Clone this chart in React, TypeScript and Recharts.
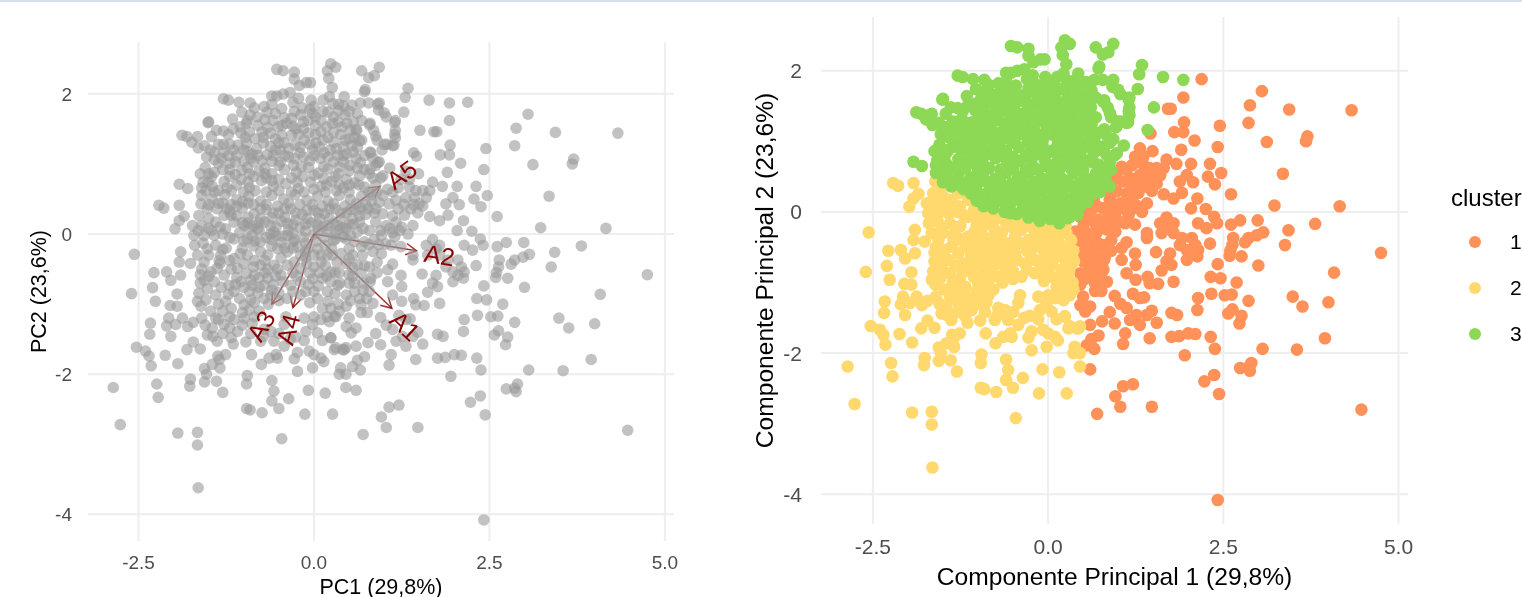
import React from 'react';
import {
  ScatterChart,
  Scatter,
  XAxis,
  YAxis,
  CartesianGrid,
  Legend,
  ReferenceLine,
  ReferenceDot,
} from 'recharts';

type Pair = [number, number];

const xTicks = [-2.5, 0, 2.5, 5];
const yTicks = [-4, -2, 0, 2];

// points, cluster 1 (orange)
const cluster1: Pair[] = [
  [2.19,1.88],[3.05,1.71],[1.93,1.62],[2.88,1.51],[1.71,1.46],[1.75,1.46],[3.44,1.45],[4.33,1.44],[1.94,1.27],[2.86,1.26],
  [2.45,1.22],[1.8,1.13],[1.93,1.13],[1.46,1.11],[2.09,1.01],[3.12,0.99],[3.7,1.07],[3.68,1.0],[2.42,0.92],[1.9,0.88],
  [1.49,0.86],[1.31,0.9],[1.36,0.78],[1.24,0.78],[1.36,0.67],[1.69,0.74],[1.83,0.68],[2.04,0.68],[2.31,0.68],[2.47,0.55],
  [2.28,0.5],[3.35,0.54],[2.38,0.39],[2.61,0.25],[2.07,0.42],[1.98,0.52],[1.88,0.43],[1.91,0.27],[1.79,0.19],[1.65,0.25],
  [2.13,0.19],[2.04,0.05],[2.25,0.04],[3.23,0.09],[4.16,0.08],[3.81,-0.17],[2.37,-0.07],[2.41,-0.16],[2.14,-0.16],[2.26,-0.23],
  [2.74,-0.12],[2.61,-0.18],[2.99,-0.12],[3.43,-0.26],[3.07,-0.29],[2.98,-0.33],[2.86,-0.37],[2.81,-0.43],[2.64,-0.37],[2.63,-0.47],
  [2.6,-0.55],[2.59,-0.62],[2.76,-0.63],[2.31,-0.45],[3.38,-0.47],[4.75,-0.58],[3.0,-0.76],[2.42,-0.74],[4.08,-0.86],[2.32,-0.92],
  [2.46,-0.94],[2.69,-1.0],[1.79,-0.99],[1.17,0.48],[1.07,0.43],[0.98,0.55],[1.05,0.64],[0.93,0.45],[0.98,0.29],[1.12,0.26],
  [1.31,0.52],[1.43,0.52],[1.55,0.62],[1.6,0.52],[1.5,0.43],[1.38,0.36],[1.29,0.27],[1.41,0.12],[1.34,0.0],[1.17,0.17],
  [1.03,0.12],[0.88,0.17],[0.96,-0.02],[0.79,0.05],[0.65,0.17],[0.62,0.03],[1.15,-0.04],[1.24,-0.18],[1.1,-0.16],[0.96,-0.28],
  [0.84,-0.25],[0.72,-0.11],[0.575,-0.11],[0.46,-0.07],[0.385,-0.28],[0.55,-0.3],[0.69,-0.3],[0.5,-0.21],[0.46,-0.42],[0.62,-0.44],
  [0.79,-0.47],[0.5,-0.58],[0.575,-0.7],[0.81,-0.63],[0.67,-0.56],[0.46,-0.87],[0.65,-0.92],[0.79,-0.82],[0.84,-0.99],[0.67,-1.01],
  [0.46,-1.03],[1.12,-0.43],[1.05,-0.51],[1.05,-0.68],[1.24,-0.59],[1.25,-0.75],[1.12,-0.87],[1.25,-0.96],[1.42,-0.92],[1.45,-1.01],
  [1.57,-1.02],[1.54,-0.57],[1.41,-0.3],[1.41,-0.37],[1.6,-0.16],[1.69,-0.08],[1.79,-0.16],[1.62,-0.3],[1.79,-0.3],[1.74,-0.21],
  [1.91,-0.37],[2.05,-0.37],[1.88,-0.47],[2.1,-0.47],[1.98,-0.54],[2.14,-0.54],[1.98,-0.68],[2.13,-0.63],[2.05,-0.59],[1.74,-0.59],
  [1.69,-0.7],[1.76,-0.75],[1.62,-0.83],[0.67,-1.12],[0.95,-1.19],[1.21,-1.16],[1.31,-1.22],[1.37,-1.21],[2.14,-1.22],[2.33,-1.16],
  [2.52,-1.18],[2.62,-1.17],[2.86,-1.26],[3.49,-1.2],[3.63,-1.34],[4.0,-1.28],[0.5,-1.2],[0.46,-1.32],[0.6,-1.34],[0.53,-1.41],
  [1.03,-1.3],[1.12,-1.36],[0.88,-1.42],[2.13,-1.39],[1.76,-1.43],[1.84,-1.46],[1.48,-1.4],[1.41,-1.46],[1.26,-1.46],[1.17,-1.53],
  [1.31,-1.6],[1.55,-1.57],[0.95,-1.58],[0.77,-1.55],[0.6,-1.6],[2.63,-1.38],[2.57,-1.44],[2.76,-1.47],[2.73,-1.58],[1.1,-1.72],
  [1.07,-1.87],[0.72,-1.75],[0.62,-1.8],[1.45,-1.79],[1.76,-1.77],[1.87,-1.76],[2.0,-1.72],[2.1,-1.73],[2.32,-1.77],[2.38,-1.94],
  [3.06,-1.94],[3.55,-1.95],[3.95,-1.79],[1.95,-2.03],[0.55,-1.89],[0.66,-1.94],[0.6,-2.23],[2.74,-2.21],[2.9,-2.14],[2.86,-2.2],
  [2.88,-2.25],[2.37,-2.31],[2.23,-2.4],[2.44,-2.58],[1.21,-2.44],[1.07,-2.47],[0.96,-2.61],[1.03,-2.76],[1.48,-2.76],[0.7,-2.86],
  [4.47,-2.8],[2.42,-4.08],[0.52,-0.02],[0.7,0.08],[0.86,-0.08],[1.02,-0.14],[0.55,-0.48],[0.7,-0.7],[0.9,-0.4],[0.58,-0.82],
  [0.72,-0.45],[1.12,0.02],[1.25,0.1],[1.48,0.3],[1.2,0.36],[0.86,0.3],[1.08,0.08],[0.5,-0.7],[0.9,-0.55],[0.76,-1.12],
  [0.55,-0.6],[0.5,-0.35],[0.68,-0.18],[0.78,-0.15],[0.92,-0.15],[0.95,0.05],[1.22,0.05],[1.28,0.42],[1.42,0.42],[1.12,0.6],
  [1.2,0.66],[1.45,0.62],[1.65,0.62],[1.55,0.4],[0.8,-0.68],[0.7,-0.8],[0.52,-0.95],[0.75,-0.92],
];

// cluster 2 (yellow)
const cluster2: Pair[] = [
  [-2.21,0.41],[-2.14,0.37],[-1.92,0.41],[-1.85,0.255],[-1.92,0.19],[-1.98,0.075],[-2.56,-0.29],[-2.6,-0.85],[-2.28,-0.55],[-2.1,-0.54],
  [-2.04,-0.66],[-1.9,-0.585],[-2.3,-0.765],[-2.26,-0.96],[-1.95,-0.855],[-2.05,-1.02],[-1.95,-1.03],[-2.33,-1.27],[-2.34,-1.43],[-2.07,-1.2],
  [-1.875,-1.2],[-2.1,-1.31],[-1.97,-1.29],[-2.04,-1.46],[-1.8,-1.32],[-1.72,-1.26],[-2.53,-1.615],[-2.4,-1.67],[-2.35,-1.74],[-2.12,-1.73],
  [-1.81,-1.65],[-1.72,-1.54],[-1.62,-1.64],[-1.26,-1.72],[-1.37,-1.74],[-1.15,-1.57],[-0.89,-1.72],[-0.97,-1.54],[-1.52,-1.44],[-1.38,-1.53],
  [-1.45,-1.34],[-1.28,-1.29],[-1.09,-1.39],[-0.995,-1.2],[-0.85,-1.18],[-1.14,-1.22],[-1.3,-1.1],[-1.47,-1.1],[-1.61,-1.03],[-1.66,-0.96],
  [-1.64,-0.845],[-1.565,-0.66],[-1.47,-0.54],[-1.4,-0.87],[-1.26,-0.96],[-0.995,-1.01],[-1.14,-0.82],[-0.92,-0.82],[-1.21,-0.73],[-1.04,-0.68],
  [-1.42,-0.68],[-1.28,-0.585],[-1.09,-0.49],[-0.88,-0.73],[-0.71,-0.92],[-0.71,-0.73],[-0.615,-0.87],[-0.38,-0.92],[-0.19,-0.87],[-0.33,-0.73],
  [-0.19,-0.68],[0.05,-0.92],[0.19,-0.82],[0.34,-0.73],[0.12,-0.63],[0.24,-0.54],[0.0,-0.47],[-0.19,-0.49],[-0.47,-0.585],[-0.66,-0.63],
  [-0.85,-0.585],[-0.76,-0.445],[-0.57,-0.445],[-0.38,-0.445],[-0.95,-0.3],[-1.14,-0.35],[-1.33,-0.3],[-1.52,-0.21],[-1.66,-0.3],[-1.9,-0.255],
  [-1.92,-0.4],[-1.76,-0.42],[-1.565,-0.4],[-1.38,-0.49],[-1.71,-0.02],[-1.73,0.12],[-1.64,0.265],[-1.61,0.43],[-1.52,0.36],[-1.4,0.17],
  [-1.565,-0.02],[-1.28,0.265],[-1.14,0.17],[-1.26,0.075],[-1.42,-0.02],[-0.995,0.12],[-0.95,-0.07],[-1.14,-0.07],[-0.8,0.08],[-0.76,-0.11],
  [-0.57,0.03],[-0.52,-0.21],[-0.38,-0.02],[-0.235,-0.18],[-0.09,-0.21],[0.05,-0.21],[0.19,-0.3],[0.0,-0.3],[-0.19,-0.3],[-0.38,-0.255],
  [-0.66,-0.3],[-0.76,-0.255],[-0.4,-1.18],[-0.425,-1.29],[0.0,-1.18],[-0.02,-1.29],[0.24,-1.06],[0.31,-1.18],[0.19,-1.18],[-0.115,-1.39],
  [-0.26,-1.47],[0.05,-1.41],[0.24,-1.48],[0.31,-1.62],[0.455,-1.62],[-0.615,-1.39],[-0.71,-1.36],[-0.57,-1.53],[-0.76,-1.53],[-0.425,-1.6],
  [-0.54,-1.72],[-0.235,-1.69],[0.0,-1.72],[0.1,-1.77],[-2.32,-1.88],[-1.94,-1.85],[-1.35,-1.79],[-1.45,-1.86],[-1.34,-1.91],[-1.56,-1.92],
  [-1.53,-2.0],[-1.39,-2.1],[-1.56,-2.11],[-1.3,-2.26],[-1.76,-2.07],[-1.77,-2.17],[-2.24,-2.14],[-2.22,-2.33],[-2.86,-2.19],[-2.76,-2.72],
  [-1.94,-2.84],[-1.66,-2.83],[-1.66,-3.01],[-1.65,-3.62],[-0.46,-2.92],[-0.95,-2.02],[-0.96,-2.14],[-0.75,-1.86],[-0.64,-1.77],[-0.52,-1.77],
  [-0.28,-1.78],[-0.235,-1.96],[-0.02,-1.91],[-0.07,-1.67],[0.14,-1.82],[0.38,-1.91],[0.36,-2.0],[0.455,-2.0],[0.455,-2.19],[-0.08,-2.23],
  [0.16,-2.27],[-0.6,-2.09],[-0.57,-2.24],[-0.6,-2.38],[-0.5,-2.49],[-0.36,-2.35],[-0.96,-2.49],[-0.91,-2.51],[-0.74,-2.55],[-0.13,-2.57],
  [0.265,-2.57],[0.29,-1.65],[0.43,-1.65],[0.41,-1.65],[0.24,-1.48],[0.29,-1.17],[0.22,-1.25],[0.33,-0.4],[0.36,-0.55],[0.37,-0.7],
  [0.3,-0.85],[0.35,-1.0],[0.36,-1.1],[0.25,-0.2],[-1.6,0.12],[-1.5,0.22],[-1.46,0.05],[-1.34,0.1],[-1.18,0.27],[-1.06,0.02],
  [-0.88,-0.02],[-0.68,-0.05],[-0.46,-0.12],[-0.3,-0.11],[-0.12,-0.34],[0.1,-0.4],[-1.58,-0.13],[-1.4,-0.16],[-1.25,-0.2],[-1.02,-0.2],
  [-0.86,-0.17],[-0.6,-0.17],[-1.7,-0.16],[-1.6,-0.5],[-1.5,-0.6],[-1.34,-0.42],[-1.18,-0.5],[-1.0,-0.42],[-0.86,-0.47],[-0.66,-0.5],
  [-0.47,-0.34],[-0.28,-0.4],[-0.06,-0.56],[0.16,-0.45],[-0.96,-0.56],[-0.78,-0.62],[-0.58,-0.72],[-0.44,-0.68],[-0.08,-0.72],[0.06,-0.74],
  [0.24,-0.68],[-1.52,-0.78],[-1.32,-0.76],[-1.1,-0.62],[-1.0,-0.76],[-0.8,-0.84],[-0.5,-0.84],[-0.06,-0.98],[0.12,-1.06],[-1.54,-0.94],
  [-1.36,-1.0],[-1.18,-1.06],[-1.02,-1.12],[-0.9,-0.94],[-0.14,-1.2],[0.1,-1.22],[-1.6,-1.2],[-0.72,-1.46],[-0.88,-1.28],
  [-1.5,0.08],[-1.3,0.0],[-1.2,-0.05],[-1.0,-0.1],[-0.84,-0.1],[-0.6,-0.08],[-0.42,-0.2],[-0.3,-0.2],[-0.12,-0.26],[0.1,-0.3],
  [0.26,-0.3],[-1.65,0.05],[-1.5,-0.3],[-1.35,-0.38],[-1.2,-0.38],[-1.05,-0.28],[-0.85,-0.38],[-0.7,-0.38],[-0.52,-0.5],[-0.3,-0.55],
  [-0.1,-0.42],[0.08,-0.55],[0.3,-0.55],[-0.9,-0.66],[-0.7,-0.55],[-0.55,-0.6],[-0.25,-0.6],[-0.02,-0.64],[0.18,-0.6],[-1.12,-0.72],
  [-0.78,-0.76],[-0.6,-0.8],[-0.3,-0.82],[-0.12,-0.82],[0.0,-0.82],[0.2,-0.96],[-1.22,-0.86],[-1.06,-0.92],[-0.85,-0.98],[-0.65,-1.0],
  [-0.5,-0.95],[-1.4,-1.2],[-1.2,-1.18],[-0.92,-1.08],[-0.78,-1.1],[-1.3,-0.22],[-1.62,-0.7],[-1.62,-0.58],[-1.55,-1.3],[-1.36,-1.22],
  [-1.2,-1.34],[-1.02,-1.3],[-0.9,-1.42],[-1.3,-1.42],[-1.18,-1.48],[-1.44,-1.46],[-0.5,-1.42],[-0.34,-1.5],[-0.14,-1.52],[0.12,-1.52],
];

// cluster 3 (green)
const cluster3: Pair[] = [
  [-0.53,2.35],[-0.44,2.33],[-0.28,2.31],[-0.28,2.21],[-0.21,2.12],[-0.11,2.16],[-0.05,2.16],[0.24,2.43],[0.31,2.38],[0.19,2.33],
  [0.21,2.22],[0.26,2.09],[0.68,2.33],[0.93,2.38],[0.78,2.23],[0.86,2.26],[0.73,2.06],[1.34,2.08],[1.3,1.95],[1.28,1.74],
  [1.64,1.91],[1.93,1.87],[1.51,1.48],[1.42,1.16],[-1.29,1.93],[-1.22,1.91],[-1.07,1.88],[-0.91,1.87],[-0.6,1.97],[-0.53,1.97],
  [-0.44,1.997],[-0.34,2.02],[-0.22,1.935],[-0.165,1.8],[-0.46,1.79],[-0.71,1.82],[-0.04,1.91],[-0.06,1.78],[0.13,1.91],[0.22,1.96],
  [0.27,1.86],[0.43,1.96],[0.54,1.84],[0.66,1.87],[0.78,1.87],[0.93,1.87],[0.92,1.77],[1.03,1.67],[1.16,1.62],[1.16,1.48],
  [1.16,1.37],[1.14,1.27],[1.04,1.28],[0.97,1.2],[0.8,1.17],[0.8,1.58],[0.85,1.48],[0.9,1.34],[0.93,1.03],[1.08,0.94],
  [-1.03,1.74],[-0.91,1.7],[-0.67,1.74],[-0.81,1.67],[-0.7,1.63],[-1.5,1.6],[-1.39,1.48],[-1.29,1.47],[-1.46,1.39],[-1.88,1.41],
  [-1.81,1.39],[-1.74,1.31],[-1.66,1.39],[-1.65,1.23],[-1.29,1.28],[-1.05,1.53],[-1.04,1.44],[-1.08,1.27],[-1.53,1.1],[-1.42,1.17],
  [-1.36,1.01],[-1.29,1.16],[-1.2,1.01],[-1.12,1.03],[-0.95,1.18],[-0.84,1.36],[-0.815,1.22],[-0.62,1.44],[-0.62,1.25],[-0.51,1.53],
  [-0.39,1.58],[-0.32,1.65],[-0.19,1.7],[0.02,1.67],[0.13,1.75],[0.28,1.67],[0.44,1.7],[0.47,1.58],[0.18,1.53],[0.4,1.53],
  [0.61,1.48],[0.68,1.34],[0.51,1.36],[0.28,1.31],[0.13,1.34],[0.02,1.55],[-0.15,1.5],[-0.32,1.41],[-0.46,1.41],[-0.27,1.27],
  [-0.48,1.2],[-0.67,1.13],[-0.86,1.03],[-1.03,0.91],[-0.48,1.03],[-0.15,1.1],[-0.06,1.05],[0.09,1.08],[0.23,1.2],[0.42,1.25],
  [0.56,1.17],[0.42,1.03],[0.28,1.03],[0.51,0.98],[-0.29,0.98],[-0.7,0.94],[-1.92,0.71],[-1.8,0.65],[-1.51,1.59],[-1.51,0.74],
  [0.79,1.56],[0.81,1.16],[0.91,1.02],[1.15,1.59],[1.15,1.42],[1.12,1.26],[1.0,1.28],[0.88,1.4],[0.72,2.03],[0.91,1.85],
  [1.0,1.73],[0.6,1.49],[0.65,1.33],[0.79,0.86],[0.65,0.83],[0.98,0.83],[0.77,0.36],[0.65,0.26],[0.46,0.08],[0.31,-0.07],
  [-1.55,0.95],[-1.42,0.88],[-1.3,0.92],[-1.12,0.85],[-0.95,0.95],[-0.78,0.9],[-0.6,0.86],[-0.42,0.92],[-0.25,0.88],[-0.08,0.95],
  [0.06,0.87],[0.2,0.93],[0.35,0.86],[0.5,0.9],[0.8,0.93],[0.95,0.8],[-1.58,0.74],[-1.45,0.68],[-1.28,0.75],[-1.1,0.7],
  [-0.92,0.66],[-0.75,0.76],[-0.58,0.68],[-0.4,0.72],[-0.22,0.65],[-0.05,0.74],[0.1,0.68],[0.25,0.75],[0.42,0.66],[0.58,0.73],
  [0.72,0.67],[0.88,0.7],[-1.6,0.55],[-1.45,0.5],[-1.27,0.56],[-1.1,0.49],[-0.93,0.54],[-0.76,0.47],[-0.6,0.55],[-0.43,0.5],
  [-0.27,0.56],[-0.1,0.48],[0.05,0.54],[0.2,0.47],[0.36,0.55],[0.52,0.49],[0.68,0.54],[0.82,0.47],[-1.38,0.36],[-1.2,0.32],
  [-1.02,0.37],[-0.85,0.29],[-0.68,0.35],[-0.5,0.3],[-0.33,0.36],[-0.17,0.28],[0.0,0.34],[0.15,0.29],[0.3,0.36],[0.46,0.3],
  [0.6,0.34],[0.74,0.28],[-1.02,0.16],[-0.86,0.12],[-0.7,0.17],[-0.54,0.1],[-0.38,0.15],[-0.2,0.09],[-0.04,0.16],[0.12,0.1],
  [0.28,0.15],[0.42,0.09],[0.56,0.14],[-0.62,0.0],[-0.45,-0.03],[-0.3,0.01],[-0.15,-0.05],[0.0,0.0],[0.15,-0.05],[0.3,0.0],
  [0.42,-0.04],[-0.28,-0.08],[-0.12,-0.13],[0.03,-0.1],[0.16,-0.16],[0.28,-0.09],[-1.46,0.82],[-1.2,0.82],[-1.04,0.78],[-0.86,0.82],
  [-0.68,0.8],[-0.5,0.78],[-0.32,0.8],[-0.16,0.82],[0.0,0.84],[0.14,0.79],[0.3,0.82],[0.46,0.78],[0.64,0.7],[-1.54,0.62],
  [-1.36,0.62],[-1.18,0.62],[-1.0,0.6],[-0.84,0.62],[-0.68,0.6],[-0.5,0.62],[-0.32,0.6],[-0.14,0.6],[0.0,0.64],[0.16,0.6],
  [0.32,0.62],[0.5,0.6],[0.78,0.6],[-1.3,0.44],[-1.18,0.42],[-1.02,0.46],[-0.86,0.42],[-0.68,0.42],[-0.52,0.4],[-0.36,0.44],
  [-0.2,0.42],[-0.02,0.42],[0.12,0.4],[0.28,0.43],[0.44,0.4],[0.6,0.43],[0.74,0.42],[0.88,0.36],[-1.1,0.26],[-0.94,0.24],
  [-0.76,0.22],[-0.6,0.23],[-0.42,0.24],[-0.26,0.2],[-0.1,0.22],[0.08,0.22],[0.22,0.22],[0.38,0.22],[0.54,0.22],[-0.78,0.05],
  [-0.92,0.08],[-0.54,-0.02],[-0.36,0.06],[-0.12,0.04],[0.06,0.06],[0.2,0.03],[0.36,0.06],[-1.1,1.12],[-0.9,1.08],[-0.74,1.05],
  [-0.58,1.12],[-0.36,1.1],[-0.2,1.16],[-0.02,1.2],[0.14,1.16],[0.34,1.12],[0.66,1.02],[0.72,1.12],[-1.22,1.12],[-0.96,1.3],
  [-0.72,1.3],[-0.5,1.3],[-0.36,1.22],[-0.14,1.34],[0.03,1.3],[0.38,1.42],[0.54,1.26],[-0.92,1.46],[-0.74,1.46],[-0.58,1.62],
  [-0.26,1.5],[-0.08,1.62],[0.28,1.45],[0.56,1.6],[-1.2,1.28],[-1.56,1.26],[-1.16,1.64],[-0.96,1.58],[0.02,1.42],[0.62,1.72],
  [-0.85,1.8],[-0.6,1.85],[-0.3,1.88],[0.0,1.82],[0.35,1.85],[0.42,1.83],[-0.95,1.62],[-0.55,1.72],[-0.42,1.66],[-0.28,1.75],
  [-0.02,1.72],[0.2,1.74],[0.35,1.76],[0.5,1.75],[-0.8,1.55],[-0.66,1.52],[-0.45,1.55],[-0.3,1.54],[-0.15,1.6],[0.1,1.62],
  [0.26,1.58],[0.34,1.6],[0.52,1.48],[0.68,1.62],[-1.22,1.42],[-1.15,1.5],[-0.98,1.38],[-0.72,1.38],[-0.55,1.36],[-0.22,1.42],
  [-0.08,1.44],[0.1,1.46],[0.2,1.38],[0.44,1.34],[0.58,1.38],[-1.48,1.2],[-1.36,1.28],[-1.15,1.2],[-1.0,1.2],[-0.88,1.14],
  [-0.55,1.2],[-0.42,1.3],[-0.2,1.24],[-0.06,1.28],[0.08,1.24],[0.32,1.22],[0.46,1.14],[0.62,1.24],[-1.42,1.06],[-1.32,1.08],
  [-1.0,1.04],[-0.8,1.12],[-0.6,1.04],[-0.42,1.12],[-0.28,1.08],[0.0,1.12],[0.2,1.1],[0.42,1.12],[0.6,1.08],[0.84,1.08],
  [-1.62,0.86],[-1.5,0.86],[-1.2,0.92],[-0.92,0.86],[-0.7,0.86],[-0.5,0.98],[-0.18,0.96],[0.14,0.96],[0.36,0.96],[0.62,0.94],
  [0.72,0.92],[0.88,0.98],[-0.94,0.74],[-0.6,0.76],[-0.24,0.74],[0.18,0.7],[0.5,0.7],[0.36,0.7],[0.84,0.8],[-1.6,0.66],
  [-1.42,0.6],[-1.24,0.66],[-1.36,0.44],[-1.5,0.42],[-1.24,0.36],[-1.1,0.4],[-0.94,0.44],[-0.76,0.36],[-0.58,0.3],[-0.42,0.36],
  [-0.26,0.3],[-0.1,0.34],[0.06,0.3],[0.22,0.36],[0.38,0.3],[0.52,0.35],[0.66,0.38],[0.82,0.56],[0.9,0.6],[-0.94,0.16],
  [-0.78,0.16],[-0.62,0.12],[-0.46,0.18],[-0.3,0.14],[-0.12,0.14],[0.04,0.14],[0.2,0.12],[0.34,0.12],[0.5,0.14],
];

// loadings of the five variables
const loadingNames = ['A1', 'A2', 'A3', 'A4', 'A5'];
const loadingX = [1.11, 1.46, -0.6, -0.3, 0.94];
const loadingY = [-1.06, -0.24, -1.0, -1.05, 0.68];
const labelX = [1.3, 1.79, -0.755, -0.37, 1.25];
const labelY = [-1.31, -0.3, -1.31, -1.36, 0.85];
const labelAngle = [43, 9, -60, -75, -36];

const toPoints = (list: Pair[]) => list.map(([x, y]) => ({ x, y }));
const allPoints = toPoints([...cluster1, ...cluster2, ...cluster3]);

const clusters = [
  { name: '1', color: '#ff9159', points: toPoints(cluster1) },
  { name: '2', color: '#ffd86e', points: toPoints(cluster2) },
  { name: '3', color: '#8dd854', points: toPoints(cluster3) },
];

const FONT = '"Liberation Sans", Arial, sans-serif';
const GRID = '#eeeeee';

const fmtX = (v: number) => v.toFixed(1);

const Arrow = (props: any) => {
  const { x1, y1, x2, y2 } = props;
  const a = Math.atan2(y2 - y1, x2 - x1);
  const len = 12;
  const ax = x2 - len * Math.cos(a - 0.5);
  const ay = y2 - len * Math.sin(a - 0.5);
  const bx = x2 - len * Math.cos(a + 0.5);
  const by = y2 - len * Math.sin(a + 0.5);
  return (
    <g stroke="#8b0000" strokeWidth={1.5} strokeOpacity={0.8} fill="none">
      <line x1={x1} y1={y1} x2={x2} y2={y2} />
      <polyline points={`${ax},${ay} ${x2},${y2} ${bx},${by}`} />
    </g>
  );
};

const ClusterLegend = ({ payload }: any) => (
  <div style={{ fontFamily: FONT, width: 114, height: 180, position: 'relative', color: '#000' }}>
    <div style={{ position: 'absolute', left: 43, top: 0, fontSize: 24, lineHeight: '30px' }}>cluster</div>
    {(payload || []).map((p: any, i: number) => (
      <div key={p.value}>
        <div
          style={{
            position: 'absolute',
            left: 61,
            top: 53 + i * 46,
            width: 12,
            height: 12,
            borderRadius: 6,
            background: p.color,
          }}
        />
        <div style={{ position: 'absolute', left: 102, top: 45 + i * 46, fontSize: 21, lineHeight: '28px' }}>{p.value}</div>
      </div>
    ))}
  </div>
);

export default function App() {
  return (
    <div style={{ position: 'absolute', left: 0, top: 0, width: 1522, height: 597, overflow: 'hidden', background: '#fff' }}>
      <div style={{ position: 'absolute', left: 0, top: 0, width: 1522, height: 2, background: '#d6dfee' }} />
      <div style={{ position: 'absolute', left: 0, top: 0, filter: 'blur(0.5px)' }}>
        <ScatterChart width={700} height={597} margin={{ top: 42, right: 26, bottom: 0, left: 0 }} style={{ fontFamily: FONT }}>
          <CartesianGrid stroke={GRID} strokeWidth={2} syncWithTicks />
          <XAxis
            type="number"
            dataKey="x"
            domain={[-3.22, 5.13]}
            ticks={xTicks}
            tickFormatter={fmtX}
            interval={0}
            height={56}
            axisLine={false}
            tickLine={false}
            tickMargin={9}
            allowDataOverflow
            tick={{ fontSize: 19, fill: '#4d4d4d' }}
            label={{ value: 'PC1 (29,8%)', position: 'insideBottom', offset: 3, fill: '#000', fontSize: 21.5 }}
          />
          <YAxis
            type="number"
            dataKey="y"
            domain={[-4.38, 2.74]}
            ticks={yTicks}
            interval={0}
            width={88}
            axisLine={false}
            tickLine={false}
            tickMargin={10}
            allowDataOverflow
            tick={{ fontSize: 19, fill: '#4d4d4d' }}
            label={{ value: 'PC2 (23,6%)', angle: -90, position: 'insideLeft', offset: 38, fill: '#000', fontSize: 21.5, style: { textAnchor: 'middle' } }}
          />
          {loadingNames.map((n, i) => (
            <ReferenceLine
              key={n}
              segment={[{ x: 0, y: 0 }, { x: loadingX[i], y: loadingY[i] }]}
              shape={Arrow}
            />
          ))}
          <Scatter data={allPoints} isAnimationActive={false} fill="#999999" fillOpacity={0.6} shape={(p: any) => <circle cx={p.cx} cy={p.cy} r={5.8} fill="#999999" fillOpacity={0.6} />} />
          {loadingNames.map((n, i) => (
            <ReferenceDot
              key={n}
              x={labelX[i]}
              y={labelY[i]}
              shape={(p: any) => (
                <text
                  x={p.cx}
                  y={p.cy}
                  fill="#8b0000"
                  fontSize={25}
                  textAnchor="middle"
                  dominantBaseline="central"
                  transform={`rotate(${labelAngle[i]} ${p.cx} ${p.cy})`}
                >
                  {n}
                </text>
              )}
            />
          ))}
        </ScatterChart>
      </div>
      <div style={{ position: 'absolute', left: 740, top: 0, filter: 'blur(0.5px)' }}>
        <ScatterChart width={782} height={597} margin={{ top: 17, right: 0, bottom: 0, left: 0 }} style={{ fontFamily: FONT }}>
          <CartesianGrid stroke={GRID} strokeWidth={2} syncWithTicks />
          <XAxis
            type="number"
            dataKey="x"
            domain={[-3.24, 5.135]}
            ticks={xTicks}
            tickFormatter={fmtX}
            interval={0}
            height={73}
            axisLine={false}
            tickLine={false}
            tickMargin={9}
            allowDataOverflow
            tick={{ fontSize: 21, fill: '#4d4d4d' }}
            label={{ value: 'Componente Principal 1 (29,8%)', position: 'insideBottom', offset: 12, fill: '#000', fontSize: 24.6 }}
          />
          <YAxis
            type="number"
            dataKey="y"
            domain={[-4.42, 2.76]}
            ticks={yTicks}
            interval={0}
            width={81}
            axisLine={false}
            tickLine={false}
            tickMargin={13}
            allowDataOverflow
            tick={{ fontSize: 21, fill: '#4d4d4d' }}
            label={{ value: 'Componente Principal 2 (23,6%)', angle: -90, position: 'insideLeft', offset: 24, fill: '#000', fontSize: 24.6, style: { textAnchor: 'middle' } }}
          />
          {clusters.map((c) => (
            <Scatter
              key={c.name}
              name={c.name}
              data={c.points}
              fill={c.color}
              legendType="circle"
              isAnimationActive={false}
              shape={(p: any) => <circle cx={p.cx} cy={p.cy} r={6.3} fill={c.color} />}
            />
          ))}
          <Legend
            layout="vertical"
            align="right"
            verticalAlign="top"
            width={114}
            wrapperStyle={{ top: 183, right: 0 }}
            content={<ClusterLegend />}
          />
        </ScatterChart>
      </div>
    </div>
  );
}
